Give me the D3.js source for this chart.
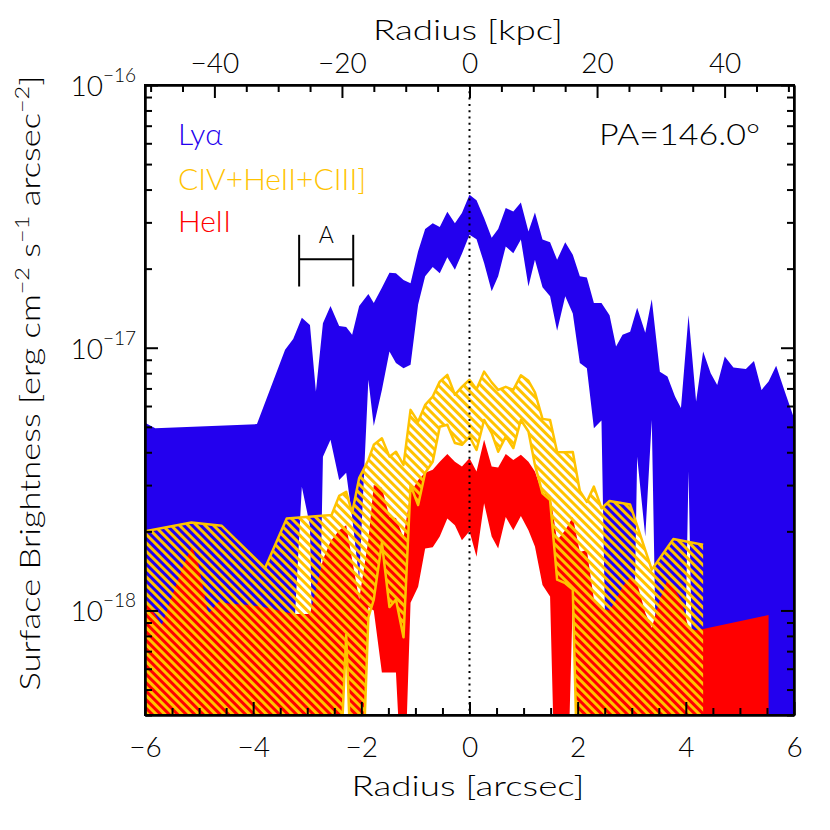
<!DOCTYPE html>
<html><head><meta charset="utf-8">
<script src="https://cdn.jsdelivr.net/npm/d3@7"></script>
<style>
body{margin:0;background:#fff}
svg{display:block}
text{font-family:Lato,'Liberation Sans',Arial,sans-serif;font-weight:300}
</style>
</head><body>
<svg id="c" width="830" height="830"></svg>
<script>
// ---- data (surface brightness in units of 1e-18 erg/cm2/s/arcsec2, radius in arcsec) ----
const lyaR  = [-6.00,-5.81,-3.93,-3.41,-3.26,-3.10,-2.95,-2.84,-2.71,-2.57,-2.41,-2.28,-2.17,-2.04,-1.87,-1.77,-1.62,-1.48,-1.36,-1.22,-1.09,-0.95,-0.82,-0.68,-0.55,-0.41,-0.27,-0.14,0.00,0.13,0.27,0.41,0.53,0.67,0.81,0.95,1.09,1.21,1.35,1.49,1.62,1.77,1.91,2.04,2.17,2.30,2.44,2.59,2.71,2.83,2.97,3.10,3.25,3.37,3.52,3.66,3.80,3.91,4.05,4.19,4.32,4.46,4.58,4.72,4.88,5.11,5.26,5.40,5.53,5.67,5.82,6.00];
const lyaHi = [5.18,4.94,5.12,9.82,10.8,13.0,12.2,6.81,12.4,14.4,12.1,12.0,11.2,14.4,16.0,14.8,16.9,19.3,19.2,18.1,17.6,23.3,28.3,29.8,28.8,32.9,29.8,32.6,38.2,36.4,31.2,26.2,28.3,34.0,33.0,35.7,27.7,32.7,25.8,25.2,21.6,25.2,22.6,18.7,18.5,14.8,14.8,13.3,10.1,11.2,11.5,14.2,11.4,15.3,8.11,7.77,6.52,5.89,13.3,6.24,9.67,8.00,7.22,9.26,8.41,8.29,8.91,6.91,7.43,8.53,6.91,5.39];
const lyaLo = [0.1,0.1,0.1,0.1,0.71,2.96,2.10,0.13,3.85,4.46,3.14,3.34,2.27,1.31,7.55,5.04,6.91,9.67,8.74,8.36,8.61,14.6,18.7,20.3,19.2,22.1,19.8,22.8,26.9,25.9,21.0,16.4,18.7,24.3,22.9,25.8,17.1,21.6,17.0,15.7,11.6,15.7,13.5,8.74,8.36,4.94,5.28,0.1,0.1,0.1,0.1,3.85,1.91,5.31,0.1,0.1,0.1,0.1,3.38,0.1,0.1,0.1,0.1,0.1,0.1,0.1,0.1,0.1,0.1,0.1,0.1,0.1];

const civR  = [-6.00,-5.14,-4.58,-3.78,-3.38,-2.55,-2.41,-2.28,-2.17,-2.04,-1.87,-1.77,-1.62,-1.48,-1.36,-1.22,-1.09,-0.95,-0.82,-0.68,-0.55,-0.41,-0.27,-0.14,0.00,0.13,0.27,0.41,0.53,0.67,0.81,0.95,1.09,1.21,1.35,1.49,1.62,1.77,1.91,2.04,2.17,2.30,2.44,2.59,2.97,3.37,3.77,4.32];
const civHi = [2.00,2.16,2.10,1.45,2.24,2.31,2.73,2.83,2.35,3.19,3.74,4.27,4.52,3.85,4.02,3.58,5.80,5.23,6.06,6.52,7.43,7.88,6.62,7.10,7.55,6.95,8.11,7.38,6.91,7.10,6.91,7.85,7.48,6.76,5.36,5.31,4.01,4.00,4.01,2.85,2.59,2.96,2.45,2.61,2.53,1.43,1.87,1.78];
const civLo = [0.1,0.1,0.1,0.1,0.1,0.1,0.2,0.81,0.2,0.1,0.94,1.10,1.81,1.03,1.10,0.79,3.00,2.52,3.34,3.68,5.00,5.09,4.34,4.27,4.59,4.08,5.31,4.73,4.02,4.59,4.15,5.31,4.80,3.58,2.79,2.63,1.31,1.27,1.20,0.1,0.1,0.1,0.1,0.1,0.1,0.1,0.1,0.1];

const heiiR  = [-6.00,-5.69,-5.47,-5.29,-5.13,-5.01,-4.83,-4.64,-4.43,-4.06,-3.69,-3.26,-2.95,-2.84,-2.71,-2.57,-2.41,-2.28,-2.17,-2.04,-1.87,-1.77,-1.62,-1.48,-1.36,-1.22,-1.09,-0.95,-0.82,-0.68,-0.55,-0.41,-0.27,-0.14,0.00,0.13,0.27,0.41,0.53,0.67,0.81,0.95,1.09,1.21,1.35,1.49,1.62,1.77,1.91,2.04,2.17,2.30,2.44,2.59,2.71,2.83,2.97,3.10,3.25,3.37,3.52,3.66,3.80,3.91,4.05,4.19,4.32,5.53];
const heiiHi = [1.10,0.88,1.18,1.49,1.75,1.49,0.97,1.08,1.06,1.05,1.02,0.97,0.97,1.20,1.56,1.83,2.02,2.11,1.56,1.10,1.85,3.00,2.93,2.27,2.25,1.89,2.80,3.14,3.34,3.43,3.68,3.94,3.68,3.53,3.80,3.38,4.46,3.53,3.50,3.94,3.74,3.91,3.68,3.38,2.79,2.75,1.85,2.02,2.27,1.67,1.70,1.10,1.02,1.00,1.10,1.23,1.34,1.27,0.98,0.86,1.10,1.31,1.20,1.10,0.86,0.84,0.85,0.96];
const heiiLo = [0.1,0.1,0.1,0.1,0.1,0.1,0.1,0.1,0.1,0.1,0.1,0.1,0.1,0.1,0.1,0.1,0.2,0.81,0.2,0.1,1.03,1.00,0.58,0.58,0.58,0.16,1.07,1.23,1.72,1.74,1.91,2.24,2.11,1.85,2.00,1.60,2.56,1.91,1.72,2.27,2.02,2.29,2.02,1.75,1.25,1.13,0.1,0.1,1.10,0.1,0.1,0.1,0.1,0.1,0.1,0.1,0.1,0.1,0.1,0.1,0.1,0.1,0.1,0.1,0.1,0.1,0.1,0.1];

const xTickVals = [-6,-4,-2,0,2,4,6];
const kpcTickVals = [-40,-20,0,20,40];
const yTickVals = [1e-18,1e-17,1e-16];
const yTickExp  = ["\u221218","\u221217","\u221216"];
const legendLabels = ["Ly\u03b1","CIV+HeII+CIII]","HeII"];
const paLabel = "PA=146.0\u00b0";
const markA = {r0:-3.15, r1:-2.15, lo:17.1, hi:26.9, mid:21.7, label:"A"};
const UNIT = 1e-18;
const KPC_PER_ARCSEC = 8.48;

// ---- setup ----
const BLUE="#2300ee", YEL="#ffc300", RED="#ff0000";
const m={l:145,r:794,t:85,b:715};
const svg=d3.select('#c');
const x=d3.scaleLinear().domain([-6,6]).range([m.l,m.r]);
const xk=d3.scaleLinear().domain([-6*KPC_PER_ARCSEC,6*KPC_PER_ARCSEC]).range([m.l,m.r]);
const y=d3.scaleLog().domain([4e-19,1e-16]).range([m.b,m.t]);

const defs=svg.append('defs');
defs.append('clipPath').attr('id','clip').append('rect')
  .attr('x',m.l).attr('y',m.t).attr('width',m.r-m.l).attr('height',m.b-m.t);
const pat=defs.append('pattern').attr('id','hatch').attr('patternUnits','userSpaceOnUse')
  .attr('width',6).attr('height',6).attr('patternTransform','rotate(-45)');
pat.append('rect').attr('x',0).attr('y',0).attr('width',3).attr('height',6).attr('fill',YEL);

const band=(R,H,L)=>R.map((r,i)=>({r:r,hi:H[i]*UNIT,lo:L[i]*UNIT}));
const area=d3.area().x(d=>x(d.r)).y0(d=>y(d.lo)).y1(d=>y(d.hi));
const lineHi=d3.line().x(d=>x(d.r)).y(d=>y(d.hi));
const lineLo=d3.line().x(d=>x(d.r)).y(d=>y(d.lo));

const plot=svg.append('g').attr('clip-path','url(#clip)');
plot.append('path').attr('d',area(band(lyaR,lyaHi,lyaLo))).attr('fill',BLUE);
plot.append('path').attr('d',area(band(heiiR,heiiHi,heiiLo))).attr('fill',RED);
const civ=band(civR,civHi,civLo);
plot.append('path').attr('d',area(civ)).attr('fill','url(#hatch)');
plot.append('path').attr('d',lineHi(civ)).attr('fill','none').attr('stroke',YEL).attr('stroke-width',2.5).attr('stroke-linejoin','round');
plot.append('path').attr('d',lineLo(civ)).attr('fill','none').attr('stroke',YEL).attr('stroke-width',2.5).attr('stroke-linejoin','round');
plot.append('line').attr('x1',x(0)).attr('x2',x(0)).attr('y1',m.t).attr('y2',m.b)
  .attr('stroke','#000').attr('stroke-width',2).attr('stroke-dasharray','2,4.3');

// ---- axes ----
const minorX=d3.range(-6,6.01,0.5).filter(v=>Math.abs(v/2-Math.round(v/2))>1e-6);
const minorK=d3.range(-50,50.1,5).filter(v=>v%20!==0);
const minorY=[];
[-19,-18,-17].forEach(e=>{for(let k=2;k<=9;k++){const v=k*Math.pow(10,e); if(v>=4e-19&&v<1e-16) minorY.push(v);}});

function style(g,fs){
  g.attr('font-family',null).attr('font-size',null);
  g.selectAll('path,line').attr('stroke','#000').attr('stroke-width',2);
  g.selectAll('text').attr('fill','#000').style('font-size',fs+'px');
}
let g;
g=svg.append('g').attr('transform',`translate(0,${m.b})`)
  .call(d3.axisBottom(x).tickValues(xTickVals).tickSizeInner(-13).tickSizeOuter(0).tickPadding(22).tickFormat(d3.format('d')));
style(g,28);
g=svg.append('g').attr('transform',`translate(0,${m.b})`)
  .call(d3.axisBottom(x).tickValues(minorX).tickSizeInner(-7).tickSizeOuter(0).tickFormat(''));
style(g,28);
g=svg.append('g').attr('transform',`translate(0,${m.t})`)
  .call(d3.axisTop(xk).tickValues(kpcTickVals).tickSizeInner(-13).tickSizeOuter(0).tickPadding(12).tickFormat(d3.format('d')));
style(g,28);
g=svg.append('g').attr('transform',`translate(0,${m.t})`)
  .call(d3.axisTop(xk).tickValues(minorK).tickSizeInner(-7).tickSizeOuter(0).tickFormat(''));
style(g,28);
[[`translate(${m.l},0)`,d3.axisLeft],[`translate(${m.r},0)`,d3.axisRight]].forEach(([tr,ax])=>{
  let a=svg.append('g').attr('transform',tr).call(ax(y).tickValues(yTickVals).tickSizeInner(-13).tickSizeOuter(0).tickFormat(''));
  style(a,28);
  a=svg.append('g').attr('transform',tr).call(ax(y).tickValues(minorY).tickSizeInner(-7).tickSizeOuter(0).tickFormat(''));
  style(a,28);
});
svg.append('rect').attr('x',m.l).attr('y',m.t).attr('width',m.r-m.l).attr('height',m.b-m.t)
  .attr('fill','none').attr('stroke','#000').attr('stroke-width',2);

// y tick labels
yTickVals.forEach((v,i)=>{
  const t=svg.append('text').attr('x',136).attr('y',y(v)+11).attr('text-anchor','end').style('font-size','28px');
  t.append('tspan').text('10');
  t.append('tspan').attr('dy',-14).style('font-size','19px').text(yTickExp[i]);
});

// titles
svg.append('text').attr('x',468).attr('y',40).attr('text-anchor','middle').style('font-size','28px')
  .attr('textLength',190).attr('lengthAdjust','spacingAndGlyphs').text('Radius [kpc]');
svg.append('text').attr('x',468).attr('y',796).attr('text-anchor','middle').style('font-size','28px')
  .attr('textLength',233).attr('lengthAdjust','spacingAndGlyphs').text('Radius [arcsec]');
const yt=svg.append('text').attr('transform','translate(40,383) rotate(-90)').attr('text-anchor','middle')
  .style('font-size','28px').attr('textLength',615).attr('lengthAdjust','spacingAndGlyphs');
yt.append('tspan').text('Surface Brightness [erg cm');
yt.append('tspan').attr('dy',-11).style('font-size','19px').text('\u22122');
yt.append('tspan').attr('dy',11).text(' s');
yt.append('tspan').attr('dy',-11).style('font-size','19px').text('\u22121');
yt.append('tspan').attr('dy',11).text(' arcsec');
yt.append('tspan').attr('dy',-11).style('font-size','19px').text('\u22122');
yt.append('tspan').attr('dy',11).text(']');

// legend
const legCols=[BLUE,YEL,RED], legY=[145,190,232];
legendLabels.forEach((s,i)=>{
  svg.append('text').attr('x',178).attr('y',legY[i]).attr('fill',legCols[i]).style('font-size','30px').text(s);
});
svg.append('text').attr('x',599).attr('y',145).style('font-size','30px')
  .attr('textLength',161).attr('lengthAdjust','spacingAndGlyphs').text(paLabel);

// "A" marker
const ga=svg.append('g').attr('stroke','#000').attr('stroke-width',2);
ga.append('line').attr('x1',x(markA.r0)).attr('x2',x(markA.r0)).attr('y1',y(markA.lo*UNIT)).attr('y2',y(markA.hi*UNIT));
ga.append('line').attr('x1',x(markA.r1)).attr('x2',x(markA.r1)).attr('y1',y(markA.lo*UNIT)).attr('y2',y(markA.hi*UNIT));
ga.append('line').attr('x1',x(markA.r0)).attr('x2',x(markA.r1)).attr('y1',y(markA.mid*UNIT)).attr('y2',y(markA.mid*UNIT));
svg.append('text').attr('x',x((markA.r0+markA.r1)/2)).attr('y',243).attr('text-anchor','middle')
  .style('font-size','23px').text(markA.label);
</script>
</body></html>
